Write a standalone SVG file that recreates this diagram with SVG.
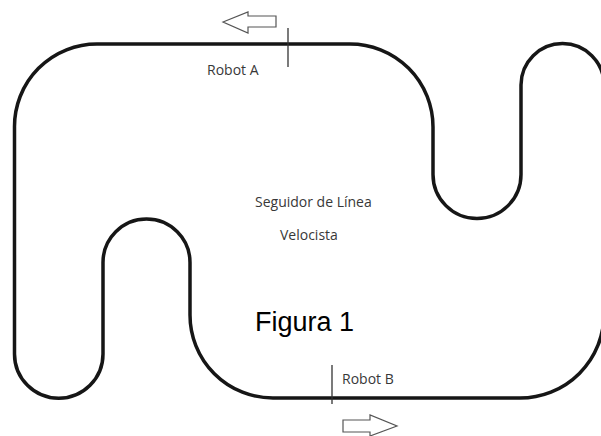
<svg xmlns="http://www.w3.org/2000/svg" width="601" height="436" viewBox="0 0 601 436">
<style>
.track{fill:none;stroke:#161616;stroke-width:3.5;stroke-linejoin:round}
.arrow{fill:#fff;stroke:#555;stroke-width:1.2;stroke-linejoin:miter}
.tick{stroke:#333;stroke-width:1.3}
.lbl{font-family:"Open Sans","Noto Sans",sans-serif;font-size:14px;fill:#383838}
.fig{font-family:"Liberation Sans",Arial,sans-serif;font-size:27px;fill:#000}
</style>
<rect width="601" height="436" fill="#fff"/>
<g id="track">
<path class="track" d="M 97 44 H 350 A 83 83 0 0 1 433 127 V 174.5 A 44 44 0 0 0 521 174.5 V 85 A 41.5 41.5 0 0 1 604 85 V 314 A 84 84 0 0 1 520 398 H 273 A 83 83 0 0 1 190 315 V 262.5 A 43.5 43.5 0 0 0 103 262.5 V 354 A 44.25 44.25 0 0 1 14.5 354 V 127 A 82.5 82.5 0 0 1 97 44 Z"/>
</g>
<g id="robotA">
<line class="tick" x1="288" y1="28" x2="288" y2="67"/>
<polygon class="arrow" points="223,22 248,12 248,16 276,16 276,27 248,27 248,33"/>
<text class="lbl" x="207" y="75">Robot A</text>
</g>
<g id="robotB">
<line class="tick" x1="332" y1="365" x2="332" y2="404"/>
<polygon class="arrow" points="343,420 370,420 370,415 397,426 370,436 370,432 343,432"/>
<text class="lbl" x="342" y="384">Robot B</text>
</g>
<g id="title">
<text class="lbl" x="255" y="207">Seguidor de Línea</text>
<text class="lbl" x="280" y="240">Velocista</text>
<text class="fig" x="255" y="331">Figura 1</text>
</g>
</svg>
